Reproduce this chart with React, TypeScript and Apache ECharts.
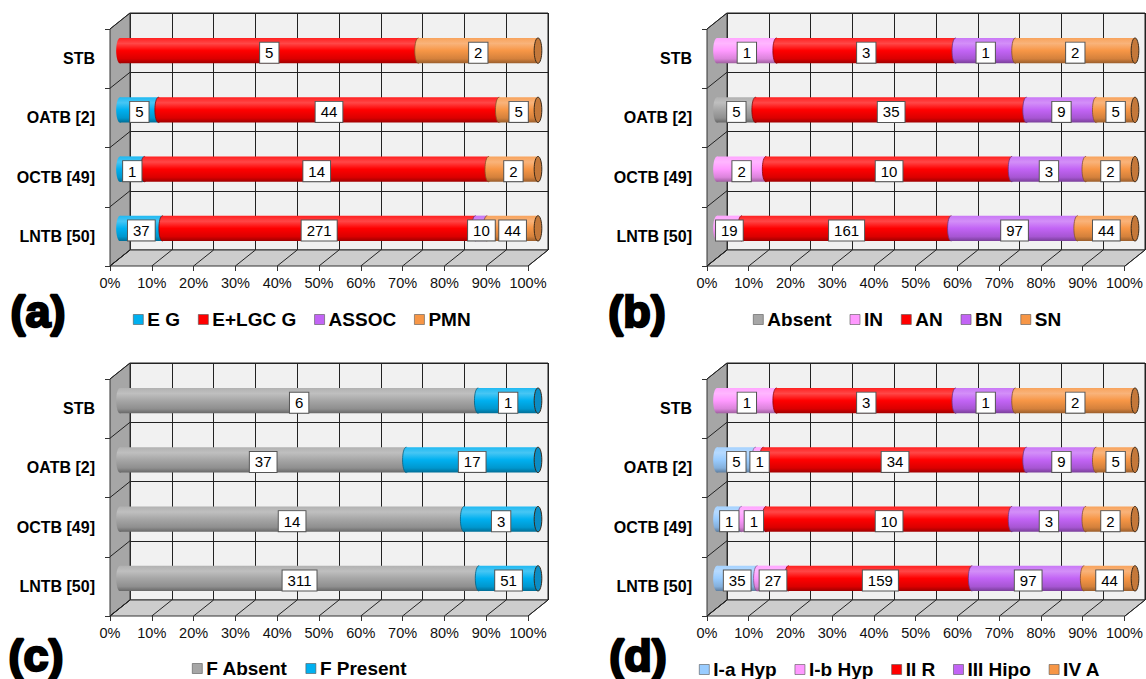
import React, { useEffect, useRef } from 'react';
import * as echarts from 'echarts';

const FONT = 'Arial, "Liberation Sans", Helvetica, sans-serif';

const categories = ['STB', 'OATB [2]', 'OCTB [49]', 'LNTB [50]'];

// Panel (a)
const aNames = ['E G', 'E+LGC G', 'ASSOC', 'PMN'];
const aEG = [0, 5, 1, 37];
const aELGC = [5, 44, 14, 271];
const aASSOC = [0, 0, 0, 10];
const aPMN = [2, 5, 2, 44];

// Panel (b)
const bNames = ['Absent', 'IN', 'AN', 'BN', 'SN'];
const bAbsent = [0, 5, 0, 0];
const bIN = [1, 0, 2, 19];
const bAN = [3, 35, 10, 161];
const bBN = [1, 9, 3, 97];
const bSN = [2, 5, 2, 44];

// Panel (c)
const cNames = ['F Absent', 'F Present'];
const cAbsent = [6, 37, 14, 311];
const cPresent = [1, 17, 3, 51];

// Panel (d)
const dNames = ['I-a Hyp', 'I-b Hyp', 'II R', 'III Hipo', 'IV A'];
const dIa = [0, 5, 1, 35];
const dIb = [1, 1, 1, 27];
const dIIR = [3, 34, 10, 159];
const dIII = [1, 9, 3, 97];
const dIV = [2, 5, 2, 44];

const BLUE = '#00b0f0';
const RED = '#ff0000';
const PURPLE = '#c264f5';
const ORANGE = '#f79646';
const GRAY = '#a6a6a6';
const PINK = '#ff99ff';
const LIGHTBLUE = '#99ccff';

function hexToRgb(h: string) {
  const v = parseInt(h.slice(1), 16);
  return [(v >> 16) & 255, (v >> 8) & 255, v & 255];
}
function mix(h: string, to: string, t: number) {
  const a = hexToRgb(h), b = hexToRgb(to);
  const c = a.map((x, i) => Math.round(x + (b[i] - x) * t));
  return `rgb(${c[0]},${c[1]},${c[2]})`;
}

function buildRows(arrs: number[][]) {
  const out: number[][][] = arrs.map(() => []);
  for (let c = 0; c < categories.length; c++) {
    const total = arrs.reduce((s, a) => s + a[c], 0);
    const nz = arrs.map((a, k) => (a[c] > 0 ? k : -1)).filter((k) => k >= 0);
    let cum = 0;
    arrs.forEach((a, k) => {
      const v = a[c];
      if (v <= 0) return;
      const s = (cum / total) * 100;
      cum += v;
      const e = (cum / total) * 100;
      out[k].push([c, s, e, v, k === nz[0] ? 1 : 0, k === nz[nz.length - 1] ? 1 : 0]);
    });
  }
  return out;
}

function makeRender(color: string, capColor: string) {
  const stops = [
    { offset: 0, color: mix(color, '#ffffff', 0.12) },
    { offset: 0.22, color: mix(color, '#ffffff', 0.28) },
    { offset: 0.5, color: color },
    { offset: 0.82, color: mix(color, '#000000', 0.14) },
    { offset: 1, color: mix(color, '#000000', 0.38) },
  ];
  const edge = mix(color, '#000000', 0.45);
  return (params: any, api: any) => {
    const cat = api.value(0);
    const s = api.value(1);
    const e = api.value(2);
    const count = api.value(3);
    const first = api.value(4) === 1;
    const last = api.value(5) === 1;
    const a = api.coord([s, cat]);
    const b = api.coord([e, cat]);
    const band = api.size([0, 1])[1];
    const h = band * 0.43;
    const ry = h / 2;
    const rx = ry * 0.3;
    const y0 = a[1] - ry;
    const grad = new echarts.graphic.LinearGradient(0, 0, 0, 1, stops);
    const children: any[] = [
      { type: 'rect', shape: { x: a[0], y: y0, width: b[0] - a[0], height: h }, style: { fill: grad } },
      { type: 'ellipse', shape: { cx: a[0], cy: a[1], rx, ry }, style: { fill: grad } },
    ];
    if (!first) {
      children.push({
        type: 'bezierCurve',
        shape: { x1: a[0], y1: y0, x2: a[0], y2: y0 + h, cpx1: a[0] - (rx * 4) / 3, cpy1: y0, cpx2: a[0] - (rx * 4) / 3, cpy2: y0 + h },
        style: { stroke: edge, fill: null, lineWidth: 0.8 },
      });
    }
    if (last) {
      children.push({
        type: 'ellipse',
        shape: { cx: b[0], cy: b[1], rx, ry },
        style: { fill: capColor, stroke: '#3a2a1a', lineWidth: 1 },
      });
    }
    children.push({
      type: 'text',
      z2: 100,
      style: {
        text: String(count),
        x: (a[0] + b[0]) / 2,
        y: a[1] + 2,
        align: 'center',
        verticalAlign: 'middle',
        fill: '#000',
        fontSize: 15,
        fontFamily: FONT,
        backgroundColor: '#ffffff',
        borderColor: '#555',
        borderWidth: 1,
        padding: [3, 5, 2, 5],
      },
    });
    return { type: 'group', children };
  };
}

const W = 418;
const H = 237;
const DX = 20;
const DY = 16;

const panels = [
  { letter: '(a)', names: aNames, arrs: [aEG, aELGC, aASSOC, aPMN], colors: [BLUE, RED, PURPLE, ORANGE], cap: '#c4783a', FL: 110, FT: 29, legendLeft: 128, legendTop: 305, lx: 38, ly: 311 },
  { letter: '(b)', names: bNames, arrs: [bAbsent, bIN, bAN, bBN, bSN], colors: [GRAY, PINK, RED, PURPLE, ORANGE], cap: '#c4783a', FL: 707, FT: 29, legendLeft: 748, legendTop: 305, lx: 637, ly: 311 },
  { letter: '(c)', names: cNames, arrs: [cAbsent, cPresent], colors: [GRAY, BLUE], cap: '#0a8cc4', FL: 110, FT: 379, legendLeft: 187, legendTop: 654, lx: 36, ly: 655 },
  { letter: '(d)', names: dNames, arrs: [dIa, dIb, dIIR, dIII, dIV], colors: [LIGHTBLUE, PINK, RED, PURPLE, ORANGE], cap: '#c4783a', FL: 707, FT: 379, legendLeft: 694, legendTop: 655, lx: 638, ly: 655 },
];

function buildOption() {
  const grid: any[] = [];
  const xAxis: any[] = [];
  const yAxis: any[] = [];
  const series: any[] = [];
  const legend: any[] = [];
  const graphic: any[] = [];

  panels.forEach((p, pi) => {
    const FL = p.FL, FT = p.FT, FB = FT + H, FR = FL + W;
    grid.push({ left: FL, top: FT, width: W, height: H });
    grid.push({ left: FL + DX / 2, top: FT - DY / 2, width: W, height: H });
    grid.push({ left: FL + DX, top: FT - DY, width: W, height: H, show: true, backgroundColor: '#f1f1f1', borderColor: '#222', borderWidth: 1 });
    const g0 = pi * 3;
    xAxis.push({
      gridIndex: g0, type: 'value', min: 0, max: 100, interval: 10,
      axisLabel: { formatter: '{value}%', fontSize: 14.5, color: '#111', margin: 9, fontFamily: FONT },
      axisTick: { show: true, length: 5, lineStyle: { color: '#333' } },
      axisLine: { show: false }, splitLine: { show: false },
    });
    yAxis.push({
      gridIndex: g0, type: 'category', data: categories, inverse: true,
      axisLabel: { fontSize: 16, fontWeight: 'bold', color: '#000', margin: 15, fontFamily: FONT },
      axisTick: { show: true, length: 5, lineStyle: { color: '#333' } },
      axisLine: { show: false }, splitLine: { show: false },
    });
    xAxis.push({ gridIndex: g0 + 1, type: 'value', min: 0, max: 100, interval: 10, show: false });
    yAxis.push({ gridIndex: g0 + 1, type: 'category', data: categories, inverse: true, show: false });
    xAxis.push({
      gridIndex: g0 + 2, type: 'value', min: 0, max: 100, interval: 10,
      axisLabel: { show: false }, axisTick: { show: false }, axisLine: { show: false },
      splitLine: { show: true, lineStyle: { color: '#222', width: 1 } },
    });
    yAxis.push({
      gridIndex: g0 + 2, type: 'category', data: categories, inverse: true,
      axisLabel: { show: false }, axisTick: { show: false }, axisLine: { show: false },
      splitLine: { show: true, lineStyle: { color: '#222', width: 1 } },
    });

    const rows = buildRows(p.arrs);
    p.names.forEach((name, k) => {
      series.push({
        type: 'custom', name, coordinateSystem: 'cartesian2d',
        xAxisIndex: g0 + 1, yAxisIndex: g0 + 1, z: 3,
        itemStyle: { color: p.colors[k] },
        encode: { x: [1, 2], y: 0 },
        data: rows[k],
        renderItem: makeRender(p.colors[k], p.cap),
      });
    });

    legend.push({
      data: p.names, left: p.legendLeft, top: p.legendTop, orient: 'horizontal',
      icon: 'rect', itemWidth: 10, itemHeight: 10, itemGap: 18, selectedMode: false,
      itemStyle: { borderColor: '#555', borderWidth: 0.6 },
      textStyle: { fontWeight: 'bold', fontSize: 19, color: '#000', fontFamily: FONT, padding: [0, 0, 0, -1] },
    });

    graphic.push({
      type: 'polygon', z: 1, silent: true,
      shape: { points: [[FL, FT], [FL + DX, FT - DY], [FL + DX, FB - DY], [FL, FB]] },
      style: { fill: '#a6a6a6', stroke: '#333', lineWidth: 1 },
    });
    graphic.push({
      type: 'polygon', z: 1, silent: true,
      shape: { points: [[FL, FB], [FL + DX, FB - DY], [FR + DX, FB - DY], [FR, FB]] },
      style: { fill: '#cdcdcd', stroke: '#333', lineWidth: 1 },
    });
    for (let i = 0; i <= 10; i++) {
      const x = FL + (i * W) / 10;
      graphic.push({ type: 'line', z: 1, silent: true, shape: { x1: x, y1: FB, x2: x + DX, y2: FB - DY }, style: { stroke: '#222', lineWidth: 1 } });
    }
    for (let j = 0; j <= 4; j++) {
      const y = FT + (j * H) / 4;
      graphic.push({ type: 'line', z: 1, silent: true, shape: { x1: FL, y1: y, x2: FL + DX, y2: y - DY }, style: { stroke: '#222', lineWidth: 1 } });
    }
    graphic.push({
      type: 'text', z: 5, silent: true, x: p.lx, y: p.ly,
      style: { text: p.letter, fill: '#000', stroke: '#000', lineWidth: 2.4, font: `bold 45px ${FONT}`, align: 'center', verticalAlign: 'middle' },
    });
  });

  return { animation: false, backgroundColor: '#ffffff', grid, xAxis, yAxis, series, legend, graphic };
}

export default function App() {
  const ref = useRef<HTMLDivElement>(null);
  useEffect(() => {
    document.body.style.margin = '0';
    const chart = echarts.init(ref.current!, undefined, { renderer: 'svg' });
    chart.setOption(buildOption() as any);
    return () => chart.dispose();
  }, []);
  return <div ref={ref} style={{ position: 'fixed', left: 0, top: 0, width: 1146, height: 679, background: '#fff' }} />;
}
